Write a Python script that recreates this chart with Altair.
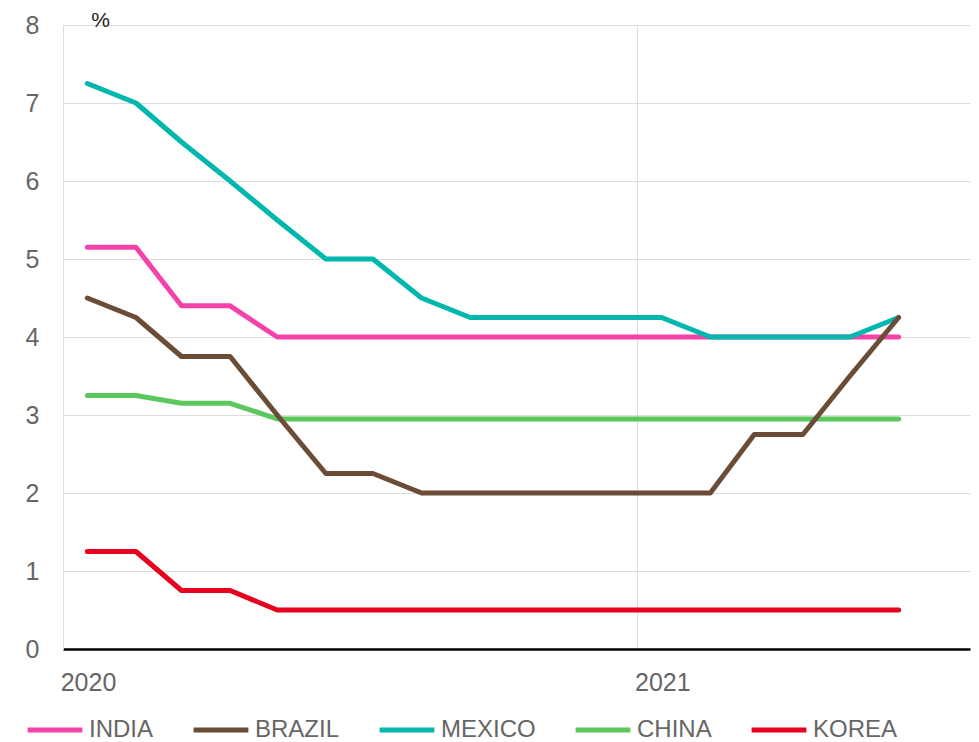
import altair as alt
import pandas as pd

months = ["2020-01", "2020-02", "2020-03", "2020-04", "2020-05", "2020-06",
          "2020-07", "2020-08", "2020-09", "2020-10", "2020-11", "2020-12",
          "2021-01", "2021-02", "2021-03", "2021-04", "2021-05", "2021-06"]

india = [5.15, 5.15, 4.4, 4.4, 4.0, 4.0, 4.0, 4.0, 4.0, 4.0, 4.0, 4.0,
         4.0, 4.0, 4.0, 4.0, 4.0, 4.0]
brazil = [4.5, 4.25, 3.75, 3.75, 3.0, 2.25, 2.25, 2.0, 2.0, 2.0, 2.0, 2.0,
          2.0, 2.0, 2.75, 2.75, 3.5, 4.25]
mexico = [7.25, 7.0, 6.5, 6.0, 5.5, 5.0, 5.0, 4.5, 4.25, 4.25, 4.25, 4.25,
          4.25, 4.0, 4.0, 4.0, 4.0, 4.25]
china = [3.25, 3.25, 3.15, 3.15, 2.95, 2.95, 2.95, 2.95, 2.95, 2.95, 2.95, 2.95,
         2.95, 2.95, 2.95, 2.95, 2.95, 2.95]
korea = [1.25, 1.25, 0.75, 0.75, 0.5, 0.5, 0.5, 0.5, 0.5, 0.5, 0.5, 0.5,
         0.5, 0.5, 0.5, 0.5, 0.5, 0.5]

series_names = ["INDIA", "BRAZIL", "MEXICO", "CHINA", "KOREA"]
series_colors = ["#f542a8", "#6b4c37", "#00b7ad", "#5bc75d", "#e8001f"]
draw_order = ["CHINA", "INDIA", "KOREA", "MEXICO", "BRAZIL"]

values = {"INDIA": india, "BRAZIL": brazil, "MEXICO": mexico,
          "CHINA": china, "KOREA": korea}

rows = []
for name in series_names:
    for m, v in zip(months, values[name]):
        rows.append({"date": m + "-16T12:00:00", "series": name, "value": v})
df = pd.DataFrame(rows)

FONT = "Liberation Sans"
GRAY = "#666666"

x_enc = alt.X(
    "date:T",
    scale=alt.Scale(domain=[alt.DateTime(year=2020, month=1, date=1),
                            alt.DateTime(year=2021, month=8, date=1)]),
    axis=alt.Axis(
        values=[alt.DateTime(year=2020, month=1, date=1),
                alt.DateTime(year=2021, month=1, date=1)],
        format="%Y", title=None, ticks=False,
        domainColor="#000000", domainWidth=2.5,
        grid=True, gridColor="#dddddd", gridWidth=1,
        labelFont=FONT, labelFontSize=25, labelColor=GRAY,
        labelAlign="center", labelOffset=25, labelPadding=21,
    ),
)
y_enc = alt.Y(
    "value:Q",
    scale=alt.Scale(domain=[0, 8]),
    axis=alt.Axis(
        values=[0, 1, 2, 3, 4, 5, 6, 7, 8], title="%", titleAngle=0,
        titleX=37, titleY=1, titleBaseline="alphabetic", titleFont=FONT,
        titleFontSize=21, titleFontWeight="normal", titleColor="#222222",
        titleAlign="center",
        ticks=False, domainColor="#dddddd", domainWidth=1,
        grid=True, gridColor="#dddddd", gridWidth=1,
        labelFont=FONT, labelFontSize=25, labelColor=GRAY, labelPadding=24,
    ),
)
color_enc = alt.Color(
    "series:N",
    scale=alt.Scale(domain=series_names, range=series_colors),
    legend=alt.Legend(
        title=None, orient="none", direction="horizontal",
        legendX=-38, legendY=675, symbolType="stroke",
        symbolSize=3000, symbolStrokeWidth=5, labelFont=FONT,
        labelFontSize=24, labelColor=GRAY, labelOffset=4, columnPadding=29,
        symbolOffset=0,
    ),
)

layers = []
for name in draw_order:
    layers.append(
        alt.Chart(df)
        .transform_filter(alt.datum.series == name)
        .mark_line(strokeWidth=5, strokeCap="round", strokeJoin="round")
        .encode(x=x_enc, y=y_enc, color=color_enc)
    )

chart = (
    alt.layer(*layers)
    .properties(width=907, height=624,
                padding={"left": 55, "top": 17, "right": 1, "bottom": 100},
                autosize=alt.AutoSizeParams(type="none"))
    .configure_view(stroke=None)
)

chart.save("out.html", embed_options={"renderer": "svg", "actions": False})
